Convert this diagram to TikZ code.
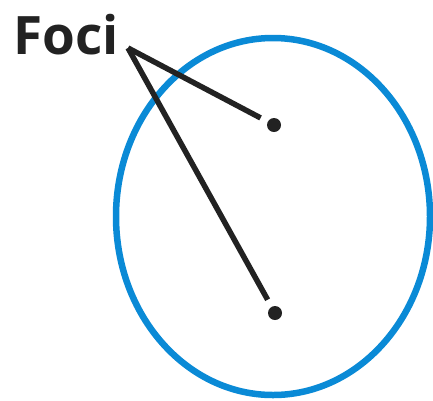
\documentclass[tikz,border=0pt]{standalone}
\usepackage{fontspec}
\setmainfont{Open Sans}
\definecolor{orbitblue}{RGB}{10,138,214}
\definecolor{inkblack}{RGB}{34,34,34}
\begin{document}
\begin{tikzpicture}[x=1pt,y=-1pt,
  orbit/.style={draw=orbitblue,line width=6.5pt},
  focusdot/.style={circle,fill=inkblack,inner sep=0pt,minimum size=14pt},
  pointer/.style={draw=inkblack,line width=5.5pt,shorten >=8pt}]
\useasboundingbox (0,0) rectangle (433,400);
\draw[orbit] (273,216.5) ellipse [x radius=157, y radius=178.5];
\node[focusdot] (f1) at (274,125) {};
\node[focusdot] (f2) at (275,313) {};
\node[anchor=base west,inner sep=0pt,text=inkblack,font=\bfseries\fontsize{53}{53}\selectfont] (label) at (13,54) {Foci};
\coordinate (apex) at (128,48);
\draw[pointer,line cap=butt] (apex) -- (f1);
\draw[pointer,line cap=butt] (apex) -- (f2);
\end{tikzpicture}
\end{document}
